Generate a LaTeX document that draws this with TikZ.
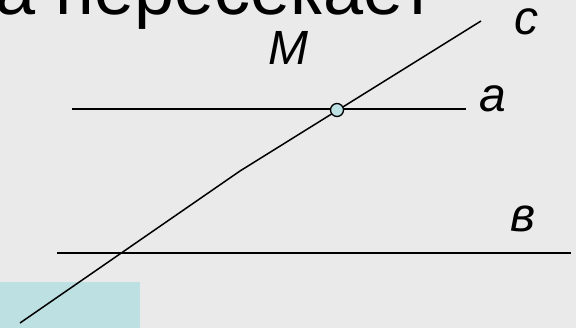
\documentclass[tikz,border=0pt]{standalone}
\usepackage{fontspec}
\setmainfont{Liberation Sans}
\definecolor{bgray}{HTML}{EAEAEA}
\definecolor{pale}{HTML}{BDE0E3}
\tikzset{
  lbl/.style={inner sep=0pt, anchor=base west, font=\fontsize{48}{56}\selectfont\itshape},
  ln/.style={line width=1.8pt}
}
\begin{document}
\begin{tikzpicture}[x=1pt,y=-1pt]
\useasboundingbox (0,0) rectangle (576,328);
\clip (0,0) rectangle (576,328);
\fill[bgray] (0,0) rectangle (576,328);
\fill[pale] (0,282) rectangle (140,328);
\node[inner sep=0pt, anchor=base west, font=\fontsize{72}{80}\selectfont] (title) at (-5,15) {а пересекает};
\coordinate (a1) at (72,109);
\coordinate (a2) at (466,109);
\coordinate (b1) at (57,253);
\coordinate (b2) at (571,253);
\coordinate (c1) at (20,323);
\coordinate (c2) at (240,171);
\coordinate (c3) at (481,21);
\draw[ln] (a1) -- (a2);
\draw[ln] (b1) -- (b2);
\draw[line width=1.5pt] (c1) -- (c2) -- (c3);
\node[circle, draw, fill=pale, line width=1.3pt, minimum size=13pt, inner sep=0pt] (M) at (337,110) {};
\node[lbl] (labc) at (514,35) {c};
\node[lbl] (laba) at (479,112) {а};
\node[lbl] (labM) at (268,65) {M};
\node[lbl] (labb) at (510,232) {в};
\end{tikzpicture}
\end{document}
